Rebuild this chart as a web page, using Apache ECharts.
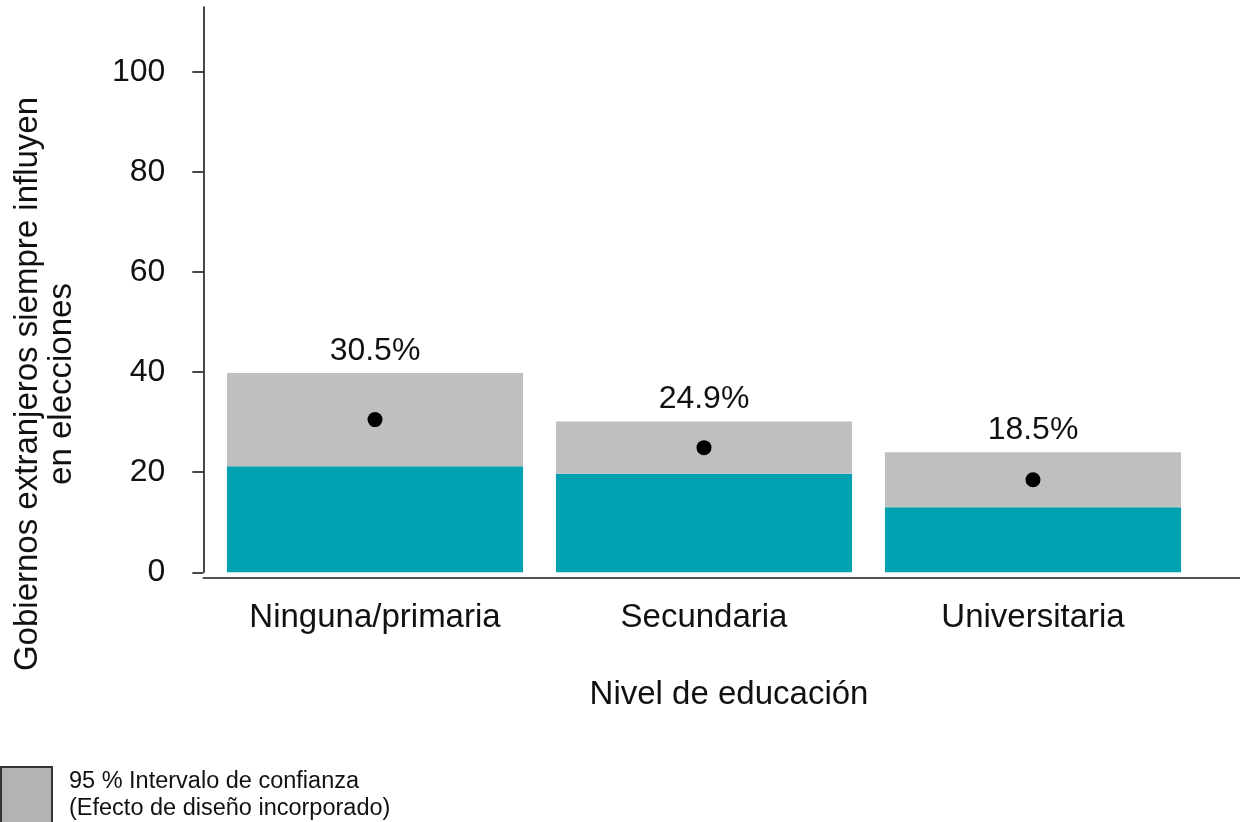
<!DOCTYPE html>
<html lang="es" style="height: 100%">
<head>
    <meta charset="utf-8">
    <title>Gobiernos extranjeros - nivel de educación</title>
    <script src="https://cdn.jsdelivr.net/npm/echarts@6/dist/echarts.min.js"></script>
</head>
<body style="height: 100%; margin: 0; background: #fff">
    <div id="main" style="width: 1240px; height: 822px"></div>
    <script type="text/javascript">
        // datos
        var categories = ['Ninguna/primaria', 'Secundaria', 'Universitaria'];
        var meanValues = [30.5, 24.9, 18.5];
        var lowerCI    = [21.2, 19.7, 13.0];
        var upperCI    = [39.8, 30.1, 24.0];
        var yTicks     = [0, 20, 40, 60, 80, 100];

        var ciName = '95 % Intervalo de confianza\n(Efecto de diseño incorporado)';
        var font = 'Liberation Sans, Arial, Helvetica, sans-serif';
        var axisColor = '#1a1a1a';

        // ancho del IC = superior - inferior (se apila sobre la barra turquesa)
        var ciWidth = upperCI.map(function (u, i) { return +(u - lowerCI[i]).toFixed(2); });

        var myChart = echarts.init(document.getElementById('main'), null, { renderer: 'canvas' });

        var option = {
            animation: false,
            textStyle: { fontFamily: font },
            grid: [
                // área de las barras (0..100)
                { left: 210.5, right: 42.5, top: 71.7, bottom: 249.7 },
                // marco de los ejes
                { left: 203.3, right: 0, top: 7, bottom: 249.7 }
            ],
            xAxis: [
                {
                    gridIndex: 0,
                    type: 'category',
                    data: categories,
                    axisLine: { show: false },
                    axisTick: { show: false },
                    axisLabel: { fontSize: 33, color: '#111', margin: 29, fontFamily: font }
                },
                {
                    gridIndex: 1,
                    type: 'value', min: 0, max: 1,
                    position: 'bottom',
                    offset: 5,
                    axisLine: { show: true, onZero: false, lineStyle: { color: axisColor, width: 1.6 } },
                    axisTick: { show: false },
                    axisLabel: { show: false },
                    splitLine: { show: false }
                }
            ],
            yAxis: [
                {
                    gridIndex: 0,
                    type: 'value',
                    min: yTicks[0], max: yTicks[yTicks.length - 1], interval: 20,
                    offset: 7.2,
                    axisLine: { show: false, onZero: false },
                    axisTick: { show: true, length: 11, lineStyle: { color: axisColor, width: 1.6 } },
                    axisLabel: { fontSize: 32, color: '#111', margin: 38, fontFamily: font },
                    splitLine: { show: false }
                },
                {
                    gridIndex: 1,
                    type: 'value', min: 0, max: 1,
                    axisLine: { show: true, onZero: false, lineStyle: { color: axisColor, width: 1.6 } },
                    axisTick: { show: false },
                    axisLabel: { show: false },
                    splitLine: { show: false }
                }
            ],
            legend: {
                data: [ciName],
                left: 0,
                top: 766,
                padding: 0,
                icon: 'rect',
                itemWidth: 51,
                itemHeight: 57,
                itemStyle: { color: '#b3b3b3', borderColor: '#333', borderWidth: 2 },
                textStyle: { fontSize: 23.5, lineHeight: 27, color: '#111', fontFamily: font, padding: [0, 0, 0, 12] },
                selectedMode: false
            },
            graphic: [
                {
                    type: 'text',
                    x: 45, y: 384,
                    rotation: Math.PI / 2,
                    style: {
                        text: 'Gobiernos extranjeros siempre influyen\nen elecciones',
                        fontSize: 33, lineHeight: 34, fontFamily: font, fill: '#111',
                        align: 'center', verticalAlign: 'middle'
                    }
                },
                {
                    type: 'text',
                    x: 729, y: 695,
                    style: {
                        text: 'Nivel de educación',
                        fontSize: 33, fontFamily: font, fill: '#111',
                        align: 'center', verticalAlign: 'middle'
                    }
                }
            ],
            series: [
                {
                    name: 'base',
                    type: 'bar',
                    stack: 'ci',
                    barWidth: '90%',
                    data: lowerCI,
                    itemStyle: { color: '#00a2b2' }
                },
                {
                    name: ciName,
                    type: 'bar',
                    stack: 'ci',
                    barWidth: '90%',
                    data: ciWidth,
                    itemStyle: { color: '#bfbfbf' },
                    label: {
                        show: true,
                        position: 'top',
                        distance: 6,
                        fontSize: 32,
                        color: '#111',
                        fontFamily: font,
                        formatter: function (p) { return meanValues[p.dataIndex].toFixed(1) + '%'; }
                    }
                },
                {
                    name: 'media',
                    type: 'scatter',
                    data: meanValues,
                    symbolSize: 15,
                    z: 5,
                    itemStyle: { color: '#000', opacity: 1 }
                }
            ]
        };

        myChart.setOption(option);
    </script>
</body>
</html>
